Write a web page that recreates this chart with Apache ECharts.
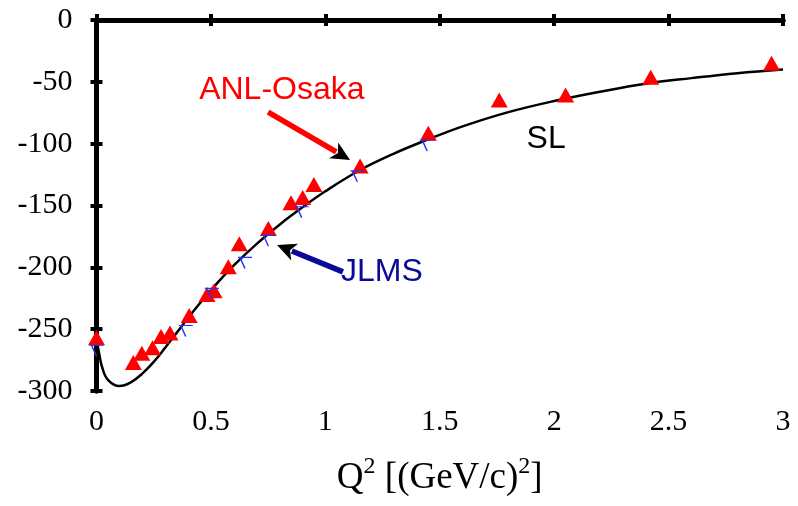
<!DOCTYPE html>
<html>
<head>
<meta charset="utf-8">
<script src="https://cdn.jsdelivr.net/npm/echarts@6/dist/echarts.min.js"></script>
<style>
  html, body { margin: 0; padding: 0; background: #fff; }
  #chart { width: 798px; height: 506px; }
</style>
</head>
<body>
<div id="chart"></div>
<script>
// ANL-Osaka points (red triangles)
const q2Anl = [0, 0.161, 0.198, 0.245, 0.282, 0.321, 0.405, 0.483, 0.514, 0.576, 0.624,
               0.751, 0.85, 0.901, 0.95, 1.152, 1.45, 1.76, 2.05, 2.422, 2.95];
const valAnl = [-257, -277, -269.5, -265, -256, -253, -239, -222, -219, -199.5, -181,
                -168.5, -147.7, -143.6, -133, -118, -91.5, -64.7, -60.6, -46.3, -35];

// JLMS points (blue marks)
const q2Jlms = [0, 0.39, 0.504, 0.649, 0.751, 0.897, 1.14, 1.445];
const valJlms = [-263, -247, -217, -192, -174, -151, -122, -97];

// SL curve
const q2Sl = [0, 0.01, 0.025, 0.05, 0.1, 0.15, 0.2, 0.25, 0.3, 0.35, 0.4, 0.45, 0.5, 0.6,
              0.7, 0.8, 0.9, 1.0, 1.15, 1.3, 1.45, 1.6, 1.8, 2.0, 2.2, 2.4, 2.6, 2.8, 3.0];
const valSl = [-258, -268, -281, -291, -296, -293, -286, -276.5, -265, -253, -241, -229.5, -218.5, -198.5,
               -181, -165.5, -151.5, -138.5, -121.5, -108, -96.5, -86, -74.5, -65.5, -58, -51.5, -47, -43, -40];

// Axis ticks
const xTicks = ['0', '0.5', '1', '1.5', '2', '2.5', '3'];
const yTicks = ['-300', '-250', '-200', '-150', '-100', '-50', '0'];

const serif = '"Liberation Serif", "DejaVu Serif", serif';
const sans = '"Liberation Sans", Arial, sans-serif';

const frameAxis = {
  axisLine: { show: true, lineStyle: { color: '#000', width: 5 } },
  axisTick: { show: true, inside: true, length: 6, lineStyle: { color: '#000', width: 4 } },
  splitLine: { show: false }
};

const chart = echarts.init(document.getElementById('chart'), null, { renderer: 'canvas' });

const xBase = { type: 'value', min: 0, max: 3, interval: 0.5 };
const yBase = { type: 'value', min: -300, max: 0, interval: 50 };

chart.setOption({
  animation: false,
  backgroundColor: '#fff',
  grid: { left: 96.5, right: 15, top: 20, bottom: 115, containLabel: false },
  xAxis: [
    Object.assign({}, xBase, frameAxis, {
      position: 'bottom',
      axisLabel: {
        color: '#000', fontFamily: serif, fontSize: 30, margin: 16,
        formatter: (v) => xTicks[Math.round(v / 0.5)]
      },
      name: '{t|Q}{s|2}{t| [(GeV/c)}{s|2}{t|]}',
      nameLocation: 'middle',
      nameGap: 64,
      nameTextStyle: {
        rich: {
          t: { fontFamily: serif, fontSize: 37, color: '#000' },
          s: { fontFamily: serif, fontSize: 24, color: '#000', verticalAlign: 'top', padding: [0, 0, 22, 0] }
        }
      }
    }),
    Object.assign({}, xBase, frameAxis, { position: 'top', axisLabel: { show: false } })
  ],
  yAxis: [
    Object.assign({}, yBase, frameAxis, {
      position: 'left',
      axisLabel: {
        color: '#000', fontFamily: serif, fontSize: 30, margin: 24,
        formatter: (v) => yTicks[Math.round((v + 300) / 50)]
      }
    }),
    Object.assign({}, yBase, frameAxis, { position: 'right', axisLabel: { show: false } })
  ],
  series: [
    {
      name: 'SL',
      type: 'line',
      data: q2Sl.map((x, i) => [x, valSl[i]]),
      showSymbol: false,
      smooth: 0.4,
      lineStyle: { color: '#000', width: 2.5 },
      z: 3
    },
    {
      name: 'JLMS',
      type: 'scatter',
      data: q2Jlms.map((x, i) => [x, valJlms[i]]),
      symbol: 'path://M0,0 L14,0 M2,0 L7,11',
      symbolSize: [14, 11],
      symbolKeepAspect: false,
      symbolOffset: [0, 5.5],
      itemStyle: { color: 'rgba(0,0,0,0)', borderColor: '#2233ff', borderWidth: 1.3, opacity: 1 },
      clip: false,
      z: 6
    },
    {
      name: 'ANL-Osaka',
      type: 'scatter',
      data: q2Anl.map((x, i) => [x, valAnl[i]]),
      symbol: 'triangle',
      symbolSize: [17, 15],
      itemStyle: { color: '#ff0000', opacity: 1 },
      clip: false,
      z: 5
    }
  ]
});

// Annotations placed in data coordinates
const toPx = (p) => chart.convertToPixel({ gridIndex: 0 }, p);

function arrow(from, to, color, width) {
  const a = toPx(from), b = toPx(to);
  const dx = b[0] - a[0], dy = b[1] - a[1];
  const len = Math.hypot(dx, dy);
  const ux = dx / len, uy = dy / len;
  const headLen = 19, headW = 9;
  const base = [b[0] - ux * headLen, b[1] - uy * headLen];
  return [
    { type: 'line', shape: { x1: a[0], y1: a[1], x2: base[0] + ux * 3, y2: base[1] + uy * 3 },
      style: { stroke: color, lineWidth: width }, z: 10 },
    { type: 'polygon', shape: { points: [
        b,
        [base[0] - uy * headW, base[1] + ux * headW],
        [base[0] + ux * 5, base[1] + uy * 5],
        [base[0] + uy * headW, base[1] - ux * headW]
      ] }, style: { fill: '#000' }, z: 11 }
  ];
}

function label(text, at, color) {
  const p = toPx(at);
  return { type: 'text', x: p[0], y: p[1], z: 12,
    style: { text: text, fill: color, font: '32px ' + sans, textAlign: 'center', textVerticalAlign: 'middle' } };
}

chart.setOption({
  graphic: [].concat(
    arrow([0.75, -74.4], [1.108, -113.2], '#ff0000', 5.5),
    arrow([1.077, -203.7], [0.789, -181.9], '#0a0a99', 5.5),
    [
      label('ANL-Osaka', [0.81, -56.6], '#ff0000'),
      label('JLMS', [1.247, -203.7], '#0a0a99'),
      label('SL', [1.965, -96], '#000')
    ]
  )
});
</script>
</body>
</html>
